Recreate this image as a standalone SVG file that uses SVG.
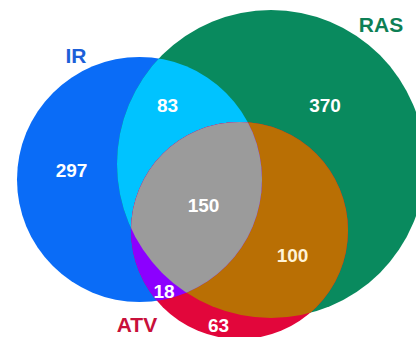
<svg xmlns="http://www.w3.org/2000/svg" width="416" height="337" viewBox="0 0 416 337">
  <style>
    .lbl { font-family: "Liberation Sans", Arial, sans-serif; font-weight: bold; font-size: 21px; text-anchor: middle; }
    .num { font-family: "Liberation Sans", Arial, sans-serif; font-weight: bold; font-size: 19px; text-anchor: middle; fill: #ffffff; }
  </style>
  <defs>
    <clipPath id="clipIR"><circle cx="139.5" cy="179.5" r="122.5"/></clipPath>
    <clipPath id="clipRAS"><circle cx="271" cy="164" r="154"/></clipPath>
  </defs>
  <rect width="416" height="337" fill="#ffffff"/>
  <g id="IR">
    <circle cx="139.5" cy="179.5" r="122.5" fill="#0A6CF7"/>
  </g>
  <g id="RAS">
    <circle cx="271" cy="164" r="154" fill="#098A5E"/>
  </g>
  <g id="IR-RAS">
    <circle cx="139.5" cy="179.5" r="122.5" fill="#00C3FF" clip-path="url(#clipRAS)"/>
  </g>
  <g id="ATV">
    <circle cx="239.5" cy="230.5" r="108.5" fill="#E2063B"/>
  </g>
  <g id="ATV-RAS">
    <circle cx="239.5" cy="230.5" r="108.5" fill="#B96F04" clip-path="url(#clipRAS)"/>
  </g>
  <g id="ATV-IR">
    <circle cx="239.5" cy="230.5" r="108.5" fill="#8C00FF" clip-path="url(#clipIR)"/>
  </g>
  <g id="ALL" clip-path="url(#clipRAS)">
    <circle cx="239.5" cy="230.5" r="108.5" fill="#9B9B9B" clip-path="url(#clipIR)"/>
  </g>
  <g id="connectors"></g>
  <g id="labels">
    <text class="lbl" x="76" y="63" style="fill:#1C5FD8">IR</text>
    <text class="lbl" x="381" y="32" style="fill:#0D7F55">RAS</text>
    <text class="lbl" x="137" y="332" style="fill:#C8103A">ATV</text>
    <text class="num" x="71.5" y="177">297</text>
    <text class="num" x="167.5" y="112">83</text>
    <text class="num" x="325" y="112">370</text>
    <text class="num" x="203.5" y="212">150</text>
    <text class="num" x="292.5" y="262" style="fill:#FFF3D6">100</text>
    <text class="num" x="164" y="298">18</text>
    <text class="num" x="218.5" y="332">63</text>
  </g>
</svg>
